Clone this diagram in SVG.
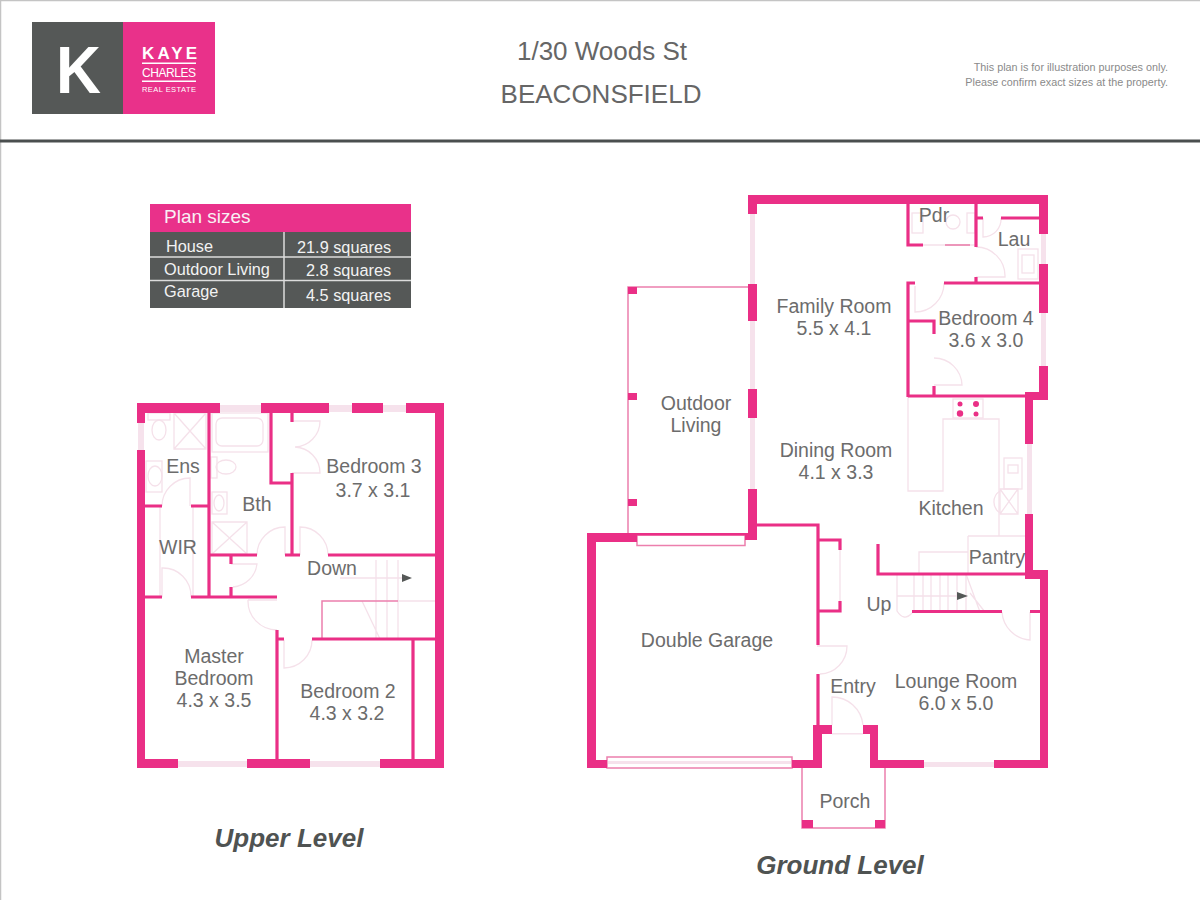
<svg xmlns="http://www.w3.org/2000/svg" width="1200" height="900" viewBox="0 0 1200 900">
<style>
text{font-family:"Liberation Sans",Arial,sans-serif}
.w{fill:#ea2f86}
.t{stroke:#ea2f86;stroke-width:3.2;fill:none}
.win{fill:#f6e2ec}
.l{stroke:#f5e1ea;stroke-width:1.3;fill:none}
.p{stroke:#ec7fad;stroke-width:1.5;fill:none}
.r{font-size:19.5px;fill:#6c6c6c;text-anchor:middle}
.c{font-size:16.300px;fill:#f2f2f2}
.h{font-size:26px;font-weight:bold;font-style:italic;fill:#4f5352;text-anchor:middle}
.d{font-size:10.800px;fill:#8a8a8a;text-anchor:end}
</style>
<rect width="1200" height="900" fill="#fff"/>
<path d="M0.5 900V0.5H1200" fill="none" stroke="#c4c4c4" stroke-width="1.5"/>
<rect x="0" y="139.500" width="1200" height="3" fill="#4a4f4f"/>

<g id="logo">
<rect x="32" y="22" width="91" height="92" fill="#555857"/>
<rect x="123" y="22" width="92" height="92" fill="#e9318a"/>
<text x="56" y="93" font-size="67" font-weight="bold" fill="#fff" textLength="45" lengthAdjust="spacingAndGlyphs">K</text>
<text x="142" y="59" font-size="17" font-weight="bold" fill="#fff" textLength="55">KAYE</text>
<rect x="142" y="62.500" width="54" height="1.500" fill="#fff"/>
<text x="142" y="77" font-size="12" fill="#fff" textLength="54">CHARLES</text>
<rect x="142" y="80.500" width="54" height="1.500" fill="#fff"/>
<text x="142" y="91.500" font-size="7.500" fill="#fff" textLength="54">REAL ESTATE</text>
</g>

<g id="title">
<text x="602" y="60" font-size="26" fill="#666" text-anchor="middle">1/30 Woods St</text>
<text x="601" y="103" font-size="26" fill="#666" text-anchor="middle">BEACONSFIELD</text>
<text class="d" x="1168" y="71">This plan is for illustration purposes only.</text>
<text class="d" x="1168" y="86">Please confirm exact sizes at the property.</text>
</g>

<g id="plan-sizes">
<rect x="150" y="204" width="261" height="28" fill="#e9318a"/>
<rect x="150" y="232" width="261" height="76" fill="#555857"/>
<path d="M150 257H411M150 280.500H411M284 232V308" stroke="#dcdcdc" stroke-width="1.500" fill="none"/>
<text x="164" y="223" font-size="19" fill="#f8f0f4">Plan sizes</text>
<text class="c" x="166" y="252">House</text>
<text class="c" x="297" y="253">21.9 squares</text>
<text class="c" x="164" y="275">Outdoor Living</text>
<text class="c" x="306" y="276">2.8 squares</text>
<text class="c" x="164" y="297">Garage</text>
<text class="c" x="306" y="301">4.5 squares</text>
</g>

<g id="upper-level">
<g id="upper-windows" class="win">
<rect x="220" y="405" width="41" height="7"/>
<rect x="329" y="405" width="23" height="7"/>
<rect x="383" y="405" width="23" height="7"/>
<rect x="138" y="423" width="6" height="27"/>
<rect x="178" y="761" width="69" height="6"/>
<rect x="310" y="761" width="70" height="6"/>
</g>
<g id="upper-fixtures" class="l">
<rect x="148" y="413" width="22" height="7"/><ellipse cx="159" cy="430" rx="7" ry="10"/>
<path d="M174 413H206V449H174ZM174 413L206 449M206 413L174 449"/>
<rect x="146" y="461" width="16" height="31"/><ellipse cx="155" cy="476" rx="7" ry="10"/>
<rect x="212" y="413" width="56" height="39"/><rect x="216" y="418" width="47" height="28" rx="6"/>
<rect x="211" y="457" width="6" height="21"/><ellipse cx="226" cy="467" rx="10" ry="7"/>
<rect x="212" y="492" width="15" height="22"/><ellipse cx="219" cy="503" rx="5" ry="8"/>
<path d="M212 522H247V554H212ZM212 522L247 554M247 522L212 554"/>
<path d="M292 421H320A26 26 0 0 1 295 447A26 26 0 0 1 320 473H292"/>
<path d="M190 506V478A28 28 0 0 0 162 506"/>
<path d="M162 597V568A28 28 0 0 1 191 597"/>
<path d="M160 506V597M193 506V597"/>
<path d="M285 555V527A28 28 0 0 0 257 555"/>
<path d="M300 555V527A28 28 0 0 1 328 555"/>
<path d="M231 564H257A26 26 0 0 1 233 587"/>
<path d="M248 600H277M248 600A29 29 0 0 0 277 630"/>
<path d="M284 640V668A28 28 0 0 0 312 640"/>
<path d="M376 560V639M387 560V639M398 560V639M398 601H435M362 601L380 639"/>
<path d="M340 578H403"/>
</g>
<polygon points="402,574 412,578 402,582" fill="#555857"/>
<path class="p" d="M322 639V601H398"/>
<g id="upper-walls" class="w">
<rect x="137" y="403" width="83" height="10"/>
<rect x="261" y="403" width="68" height="10"/>
<rect x="352" y="403" width="31" height="10"/>
<rect x="406" y="403" width="38" height="10"/>
<rect x="137" y="403" width="8" height="20"/>
<rect x="137" y="450" width="8" height="318"/>
<rect x="435" y="403" width="9" height="365"/>
<rect x="137" y="759" width="41" height="9"/>
<rect x="247" y="759" width="63" height="9"/>
<rect x="380" y="759" width="64" height="9"/>
</g>
<path class="t" d="M209 413V597M145 506H162M191 506H209M145 597H162M191 597H277M271 413V483H292M292 413V422M292 473V555M209 555H257M285 555H300M328 555H435M231 555V564M231 587V597M277 630V759M277 639H284M312 639H435M413 639V759"/>
<text class="r" x="183" y="473">Ens</text>
<text class="r" x="257" y="511">Bth</text>
<text class="r" x="178" y="554">WIR</text>
<text class="r" x="374" y="473">Bedroom 3</text>
<text class="r" x="373" y="497">3.7 x 3.1</text>
<text class="r" x="332" y="575">Down</text>
<text class="r" x="214" y="663">Master</text>
<text class="r" x="214" y="685">Bedroom</text>
<text class="r" x="214" y="707">4.3 x 3.5</text>
<text class="r" x="348" y="698">Bedroom 2</text>
<text class="r" x="347" y="720">4.3 x 3.2</text>
<text class="h" x="289" y="847">Upper Level</text>
</g>

<g id="ground-level">
<g id="ground-windows" class="win">
<rect x="750" y="214" width="5" height="70"/>
<rect x="750" y="321" width="5" height="68"/>
<rect x="750" y="418" width="5" height="71"/>
<rect x="1041" y="234" width="5" height="30"/>
<rect x="1041" y="313" width="5" height="53"/>
<rect x="1027" y="444" width="5" height="70"/>
<rect x="924" y="762" width="70" height="5"/>
<rect x="832" y="733" width="31" height="1.500"/>
</g>
<g id="ground-fixtures" class="l">
<rect x="912" y="213" width="11" height="20"/>
<circle cx="953" cy="222" r="7"/>
<rect x="967" y="213" width="8" height="20"/>
<rect x="1018" y="249" width="20" height="30"/><rect x="1022" y="255" width="12" height="18"/>
<path d="M923 245H976"/>
<path d="M983 218V237A18 18 0 0 0 1001 218"/>
<path d="M976 277H1005A29 29 0 0 0 976 247"/>
<path d="M915 286V312A29 29 0 0 0 944 283"/>
<path d="M934 385H962A28 28 0 0 0 934 358"/>
<rect x="953" y="399" width="30" height="19"/>
<path d="M908 397V491H943V419H999V536M968 536H1025M968 536V574M919 574V552H968"/>
<rect x="1004" y="458" width="18" height="31"/><rect x="1008" y="465" width="10" height="8"/>
<path d="M1000 489H1018V514H1000ZM1000 489L1018 514M1018 489L1000 514M1000 491A13 13 0 0 0 1000 513"/>
<path d="M840 550V601"/>
<path d="M897 574V611Q904 622 912 613"/>
<path d="M914 574V611M923 574V611M931 574V611M940 574V611M948 574V611M957 574V611M966 574V611M897 596H957"/>
<path d="M966 574L980 612M970 593L985 612"/>
<path d="M1002 612A30 30 0 0 0 1030 640V612"/>
<path d="M817 646H847A28 28 0 0 1 820 674"/>
<path d="M832 725V697A31 31 0 0 1 863 725"/>
</g>
<polygon points="957,592 968,596 957,600" fill="#555857"/>
<path d="M945 245H970" stroke="#e87ba8" stroke-width="1.500" fill="none"/>
<g id="outdoor-living">
<path class="p" d="M628 533V287H748"/>
<rect class="w" x="628" y="287" width="9" height="7"/>
<rect class="w" x="628" y="393" width="9" height="7"/>
<rect class="w" x="628" y="499" width="9" height="7"/>
</g>
<g id="porch">
<path class="p" d="M802 768V828H885V768"/>
<rect class="w" x="802" y="820" width="11" height="8"/>
<rect class="w" x="875" y="820" width="10" height="8"/>
</g>
<g id="garage-doors">
<rect class="p" x="637" y="535" width="108" height="10.500"/>
<rect class="p" x="607" y="757" width="185" height="11"/>
<rect x="608" y="761" width="183" height="3" fill="#f6e2ec"/>
</g>
<g id="ground-walls" class="w">
<rect x="748" y="195" width="300" height="9"/>
<rect x="748" y="195" width="9" height="19"/>
<rect x="748" y="284" width="9" height="37"/>
<rect x="748" y="389" width="9" height="29"/>
<rect x="748" y="489" width="9" height="51"/>
<rect x="1039" y="195" width="9" height="39"/>
<rect x="1039" y="264" width="9" height="49"/>
<rect x="1039" y="366" width="9" height="34"/>
<rect x="1025" y="392" width="23" height="8"/>
<rect x="1025" y="392" width="8" height="52"/>
<rect x="1025" y="514" width="8" height="65"/>
<rect x="1025" y="570" width="23" height="9"/>
<rect x="1040" y="570" width="8" height="198"/>
<rect x="587" y="533" width="9" height="235"/>
<rect x="587" y="533" width="50" height="9"/>
<rect x="637" y="533" width="108" height="2.500"/>
<rect x="745" y="533" width="12" height="7"/>
<rect x="587" y="760" width="20" height="8"/>
<rect x="792" y="760" width="30" height="8"/>
<rect x="813" y="725" width="9" height="43"/>
<rect x="813" y="725" width="19" height="9"/>
<rect x="863" y="725" width="15" height="9"/>
<rect x="870" y="725" width="8" height="43"/>
<rect x="870" y="760" width="54" height="8"/>
<rect x="994" y="760" width="54" height="8"/>
</g>
<path class="t" d="M757 525H818V645M818 674V725M818 540H840V550M818 611H840V601M878 544V574H1025M912 611.500H1002M1030 611.500H1040M908 204V245H923M976 204V247M976 218H983M1001 218H1039M908 397V283H915M944 283H1039M976 277V283M908 321H934V334M934 386V397M908 396H1025"/>
<text class="r" x="934" y="222">Pdr</text>
<text class="r" x="1014" y="246">Lau</text>
<text class="r" x="834" y="313">Family Room</text>
<text class="r" x="834" y="335">5.5 x 4.1</text>
<text class="r" x="986" y="325">Bedroom 4</text>
<text class="r" x="986" y="347">3.6 x 3.0</text>
<text class="r" x="696" y="410">Outdoor</text>
<text class="r" x="696" y="432">Living</text>
<text class="r" x="836" y="457">Dining Room</text>
<text class="r" x="836" y="479">4.1 x 3.3</text>
<text class="r" x="951" y="515">Kitchen</text>
<text class="r" x="997" y="564">Pantry</text>
<text class="r" x="879" y="611">Up</text>
<text class="r" x="707" y="647">Double Garage</text>
<text class="r" x="853" y="693">Entry</text>
<text class="r" x="956" y="688">Lounge Room</text>
<text class="r" x="956" y="710">6.0 x 5.0</text>
<text class="r" x="845" y="808">Porch</text>
<text class="h" x="840" y="874">Ground Level</text>
</g>
<g id="hob" fill="#ea2f86">
<circle cx="960" cy="404" r="2.500"/>
<circle cx="976" cy="404" r="3"/>
<circle cx="960" cy="413.500" r="3.200"/>
<circle cx="976" cy="414" r="2.500"/>
</g>
</svg>
